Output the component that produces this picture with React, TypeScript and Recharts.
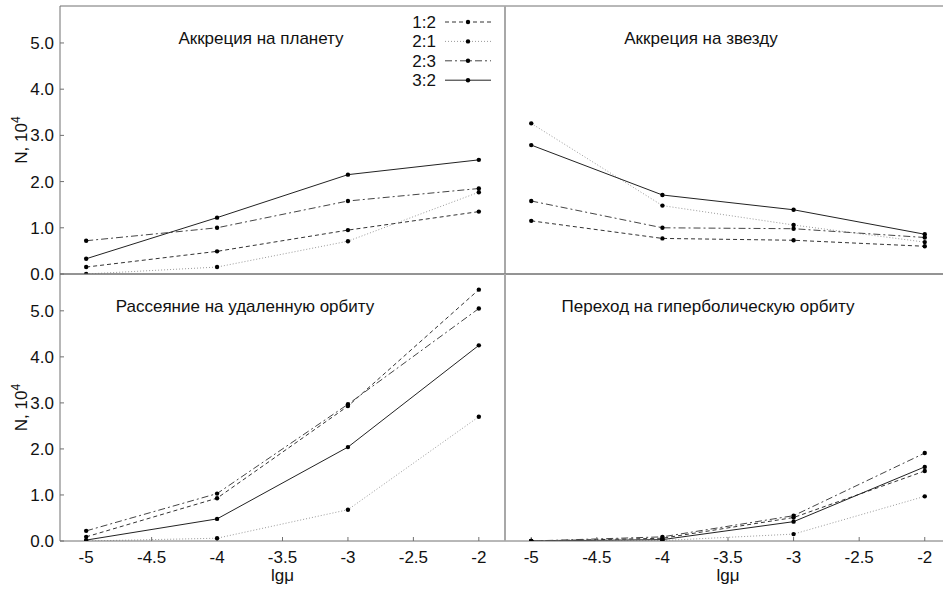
import React from 'react';
import { LineChart, Line, XAxis, YAxis, Legend } from 'recharts';

// lg(mu) values where the runs were made
const MU_LOG = [-5, -4, -3, -2];
const RATIOS = ['1:2', '2:1', '2:3', '3:2'];

// N, 10^4 — accretion onto the planet
const planet12 = [0.15, 0.49, 0.95, 1.35];
const planet21 = [0.0, 0.15, 0.71, 1.77];
const planet23 = [0.72, 1.0, 1.58, 1.85];
const planet32 = [0.33, 1.22, 2.15, 2.47];

// accretion onto the star
const star12 = [1.15, 0.77, 0.73, 0.6];
const star21 = [3.26, 1.48, 1.06, 0.69];
const star23 = [1.58, 1.0, 0.98, 0.79];
const star32 = [2.79, 1.71, 1.39, 0.86];

// scattering to a distant orbit
const scatter12 = [0.09, 0.93, 2.93, 5.46];
const scatter21 = [0.0, 0.06, 0.68, 2.7];
const scatter23 = [0.22, 1.03, 2.97, 5.05];
const scatter32 = [0.02, 0.48, 2.04, 4.25];

// transition to a hyperbolic orbit
const hyper12 = [0.0, 0.06, 0.51, 1.52];
const hyper21 = [0.0, 0.01, 0.15, 0.97];
const hyper23 = [0.0, 0.09, 0.55, 1.91];
const hyper32 = [0.0, 0.03, 0.42, 1.61];

const X_TICKS = [-5, -4.5, -4, -3.5, -3, -2.5, -2];
const Y_TICKS = [0, 1, 2, 3, 4, 5];

const buildRows = (s12: number[], s21: number[], s23: number[], s32: number[]) =>
  MU_LOG.map((x, i) => ({ x, r12: s12[i], r21: s21[i], r23: s23[i], r32: s32[i] }));

const LINE_STYLE: Record<string, { key: string; stroke: string; dash?: string }> = {
  '1:2': { key: 'r12', stroke: '#333', dash: '4 3' },
  '2:1': { key: 'r21', stroke: '#9a9a9a', dash: '1 2' },
  '2:3': { key: 'r23', stroke: '#444', dash: '7 3 2 3' },
  '3:2': { key: 'r32', stroke: '#222' },
};

const W = 951;
const H = 591;
const SPLIT_X = 505;
const SPLIT_Y = 274;
const TOP = 6;
const FONT = '"Liberation Sans", Arial, sans-serif';
const AXIS = '#707070';
const MID = '#a8a8a8';

const YTitle = ({ viewBox }: any) => {
  const cx = 27;
  const cy = viewBox.y + viewBox.height / 2;
  return (
    <text x={cx} y={cy} transform={`rotate(-90 ${cx} ${cy})`} textAnchor="middle" fontSize={17} fill="#111">
      N, 10<tspan dy={-7} fontSize={12}>4</tspan>
    </text>
  );
};

const renderLegend = () => (
  <svg width={130} height={80}>
    {RATIOS.map((r, i) => {
      const s = LINE_STYLE[r];
      return (
        <g key={r} transform={`translate(0, ${i * 19.4})`}>
          <text x={56} y={16} textAnchor="end" fontSize={17} fill="#111" fontFamily={FONT}>
            {r}
          </text>
          <line x1={65} x2={111} y1={10} y2={10} stroke={s.stroke} strokeDasharray={s.dash} />
          <circle cx={88} cy={10} r={2.2} fill="#000" />
        </g>
      );
    })}
  </svg>
);

interface PanelProps {
  rows: any[];
  title: string;
  titleX: number;
  col: 0 | 1;
  row: 0 | 1;
  legend?: boolean;
}

const Panel: React.FC<PanelProps> = ({ rows, title, titleX, col, row, legend }) => {
  // thin (1px) axes sit on the frame edges, so margins leave room for them
  const margin = {
    top: (row === 0 ? TOP : SPLIT_Y) - 1,
    bottom: row === 0 ? H - SPLIT_Y - 1 : 0,
    left: col === 0 ? 0 : SPLIT_X - 1,
    right: col === 0 ? W - SPLIT_X - 1 : 0,
  };
  return (
    <div style={{ position: 'absolute', left: 0, top: 0 }}>
      <LineChart width={W} height={H} data={rows} margin={margin}>
        <XAxis
          dataKey="x"
          type="number"
          domain={[-5.2, -1.8]}
          ticks={X_TICKS}
          allowDataOverflow
          height={row === 1 ? 50 : 1}
          tickSize={-4}
          tickMargin={14}
          tick={row === 1 ? { fontSize: 17, fill: '#111' } : false}
          stroke={AXIS}
          label={row === 1 ? { value: 'lgμ', position: 'insideBottom', offset: 10, fontSize: 17, fill: '#111' } : undefined}
        />
        <XAxis
          xAxisId="top"
          orientation="top"
          type="number"
          domain={[-5.2, -1.8]}
          ticks={X_TICKS}
          allowDataOverflow
          height={1}
          tickSize={-4}
          tick={false}
          stroke={AXIS}
        />
        <YAxis
          type="number"
          domain={[0, 5.8]}
          ticks={Y_TICKS}
          allowDataOverflow
          width={col === 0 ? 60 : 1}
          tickSize={-4}
          tickMargin={10}
          tick={col === 0 ? { fontSize: 17, fill: '#111' } : false}
          tickFormatter={(v: number) => v.toFixed(1)}
          stroke={col === 0 ? AXIS : MID}
          axisLine={{ stroke: col === 0 ? AXIS : MID, strokeWidth: col === 0 ? 1 : 2 }}
          tickLine={{ stroke: AXIS }}
          label={col === 0 ? <YTitle /> : undefined}
        />
        {col === 0 && (
          <YAxis
            yAxisId="right"
            orientation="right"
            type="number"
            domain={[0, 5.8]}
            ticks={Y_TICKS}
            allowDataOverflow
            width={1}
            tickSize={-4}
            tick={false}
            axisLine={false}
            tickLine={{ stroke: AXIS }}
          />
        )}
        {RATIOS.map((r) => {
          const s = LINE_STYLE[r];
          return (
            <Line
              key={r}
              name={r}
              type="linear"
              dataKey={s.key}
              stroke={s.stroke}
              strokeWidth={1}
              strokeDasharray={s.dash}
              dot={{ r: 2.2, fill: '#000', stroke: '#000', strokeWidth: 0 }}
              isAnimationActive={false}
            />
          );
        })}
        {legend && (
          <Legend
            layout="vertical"
            align="center"
            verticalAlign="middle"
            content={renderLegend}
            wrapperStyle={{ position: 'absolute', left: 380, top: 12, width: 130, height: 80 }}
          />
        )}
        <text x={titleX} y={row === 0 ? 44 : 312} textAnchor="middle" fontSize={17} fill="#111">
          {title}
        </text>
      </LineChart>
    </div>
  );
};

export default function App() {
  return (
    <div
      style={{
        position: 'absolute',
        left: 0,
        top: 0,
        width: 943,
        height: 591,
        overflow: 'hidden',
        background: '#fff',
        fontFamily: FONT,
      }}
    >
      <Panel rows={buildRows(planet12, planet21, planet23, planet32)} title="Аккреция на планету" titleX={261} col={0} row={0} legend />
      <Panel rows={buildRows(star12, star21, star23, star32)} title="Аккреция на звезду" titleX={701} col={1} row={0} />
      <Panel rows={buildRows(scatter12, scatter21, scatter23, scatter32)} title="Рассеяние на удаленную орбиту" titleX={245} col={0} row={1} />
      <Panel rows={buildRows(hyper12, hyper21, hyper23, hyper32)} title="Переход на гиперболическую орбиту" titleX={708} col={1} row={1} />
    </div>
  );
}
